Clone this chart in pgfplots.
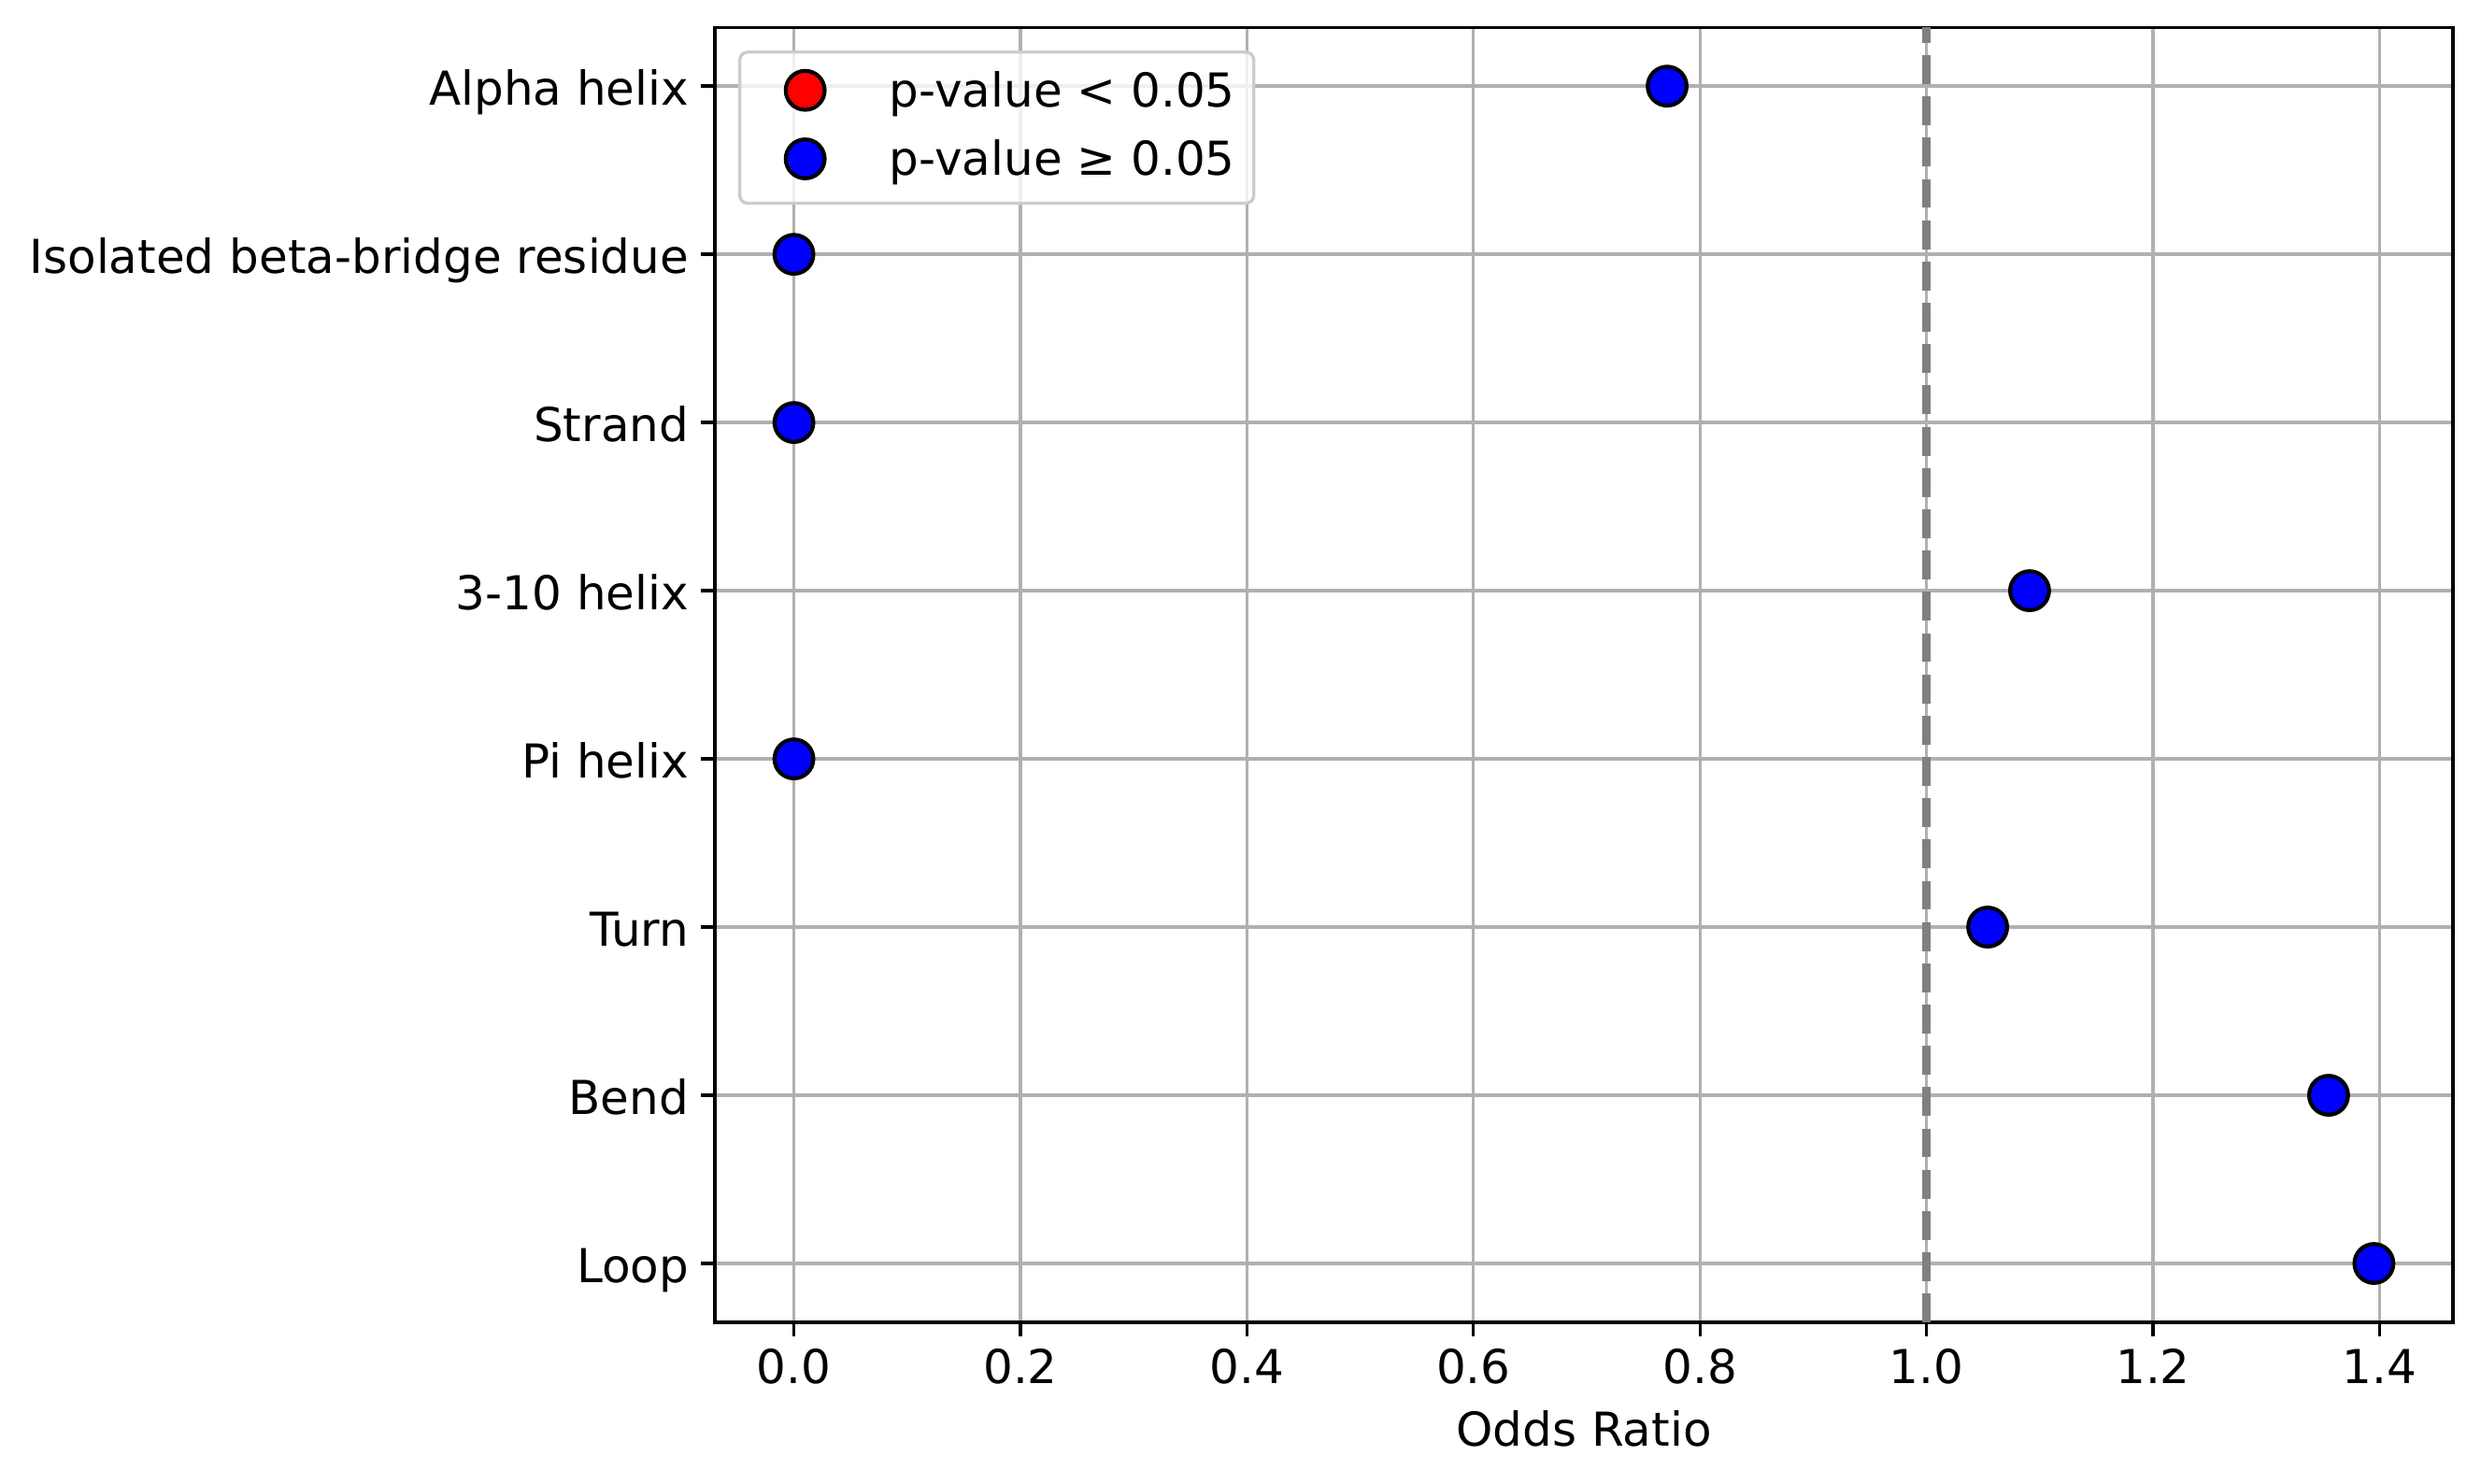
\documentclass[border=0pt]{standalone}
\usepackage{fontspec}
\setmainfont{DejaVu Sans}
\usepackage{pgfplots}
\pgfplotsset{compat=1.18}
\definecolor{gridgray}{HTML}{B0B0B0}
\definecolor{legframe}{HTML}{CCCCCC}
\definecolor{vgray}{HTML}{808080}
\begin{document}
\fontsize{12}{14.4}\selectfont
\begin{tikzpicture}
\useasboundingbox (-183.6pt,-41.3pt) rectangle (453.6pt,339.6pt);
\begin{axis}[
  at={(0pt,0pt)}, anchor=south west,
  scale only axis, width=446.4pt, height=332.6pt,
  xmin=-0.0698, xmax=1.4648, ymin=-0.35, ymax=7.35,
  xtick={0,0.2,0.4,0.6,0.8,1.0,1.2,1.4},
  xticklabels={0.0,0.2,0.4,0.6,0.8,1.0,1.2,1.4},
  ytick={0,1,2,3,4,5,6,7},
  yticklabels={Loop,Bend,Turn,Pi helix,3-10 helix,Strand,Isolated beta-bridge residue,Alpha helix},
  /pgf/number format/assume math mode=true,
  grid=major,
  major grid style={gridgray, line width=0.8pt},
  tick align=outside, tick pos=left,
  major tick length=3.5pt,
  tick style={black, line width=0.8pt},
  axis line style={line width=0.8pt},
  xticklabel style={anchor=base, inner sep=0pt, yshift=-12.2pt, font=\fontsize{12}{14.4}\selectfont},
  yticklabel style={anchor=base east, inner sep=0pt, xshift=-3pt, yshift=-4.9pt, font=\fontsize{12}{14.4}\selectfont},
  xlabel={Odds Ratio},
  xlabel style={at={(axis description cs:0.5,0)}, anchor=base, inner sep=0pt, yshift=-31.7pt, font=\fontsize{12}{14.4}\selectfont},
  legend style={at={(0.01344,0.98196)}, anchor=north west,
    draw=legframe, line width=0.8pt, fill=white, fill opacity=0.8, text opacity=1,
    rounded corners=2pt, inner xsep=4.8pt, inner ysep=4.1pt,
    row sep=4.6pt, column sep=0pt,
    font=\fontsize{12}{14.4}\selectfont,
    cells={anchor=base west},
    nodes={inner sep=0pt, text height=10pt, text depth=3pt}},
  legend image code/.code={
    \path[draw=none, fill=none] (0pt,-3pt) rectangle (33.6pt,10pt);
    \draw[#1, fill opacity=1, draw opacity=1] plot coordinates {(12pt,4.3pt)};
  },
]
\addlegendimage{only marks, mark=*, mark size=5pt, mark options={fill=red, draw=black, line width=1pt}}
\addlegendentry{p-value < 0.05}
\addplot[only marks, mark=*, mark size=5pt, mark options={fill=blue, draw=black, line width=1pt}]
  coordinates {(0.771,7) (0,6) (0,5) (1.091,4) (0,3) (1.054,2) (1.355,1) (1.395,0)};
\addlegendentry{p-value ≥ 0.05}
\addplot[vgray, line width=2pt, dash pattern=on 7.4pt off 3.2pt, forget plot]
  coordinates {(1,-0.35) (1,7.35)};
\end{axis}
\end{tikzpicture}
\end{document}
